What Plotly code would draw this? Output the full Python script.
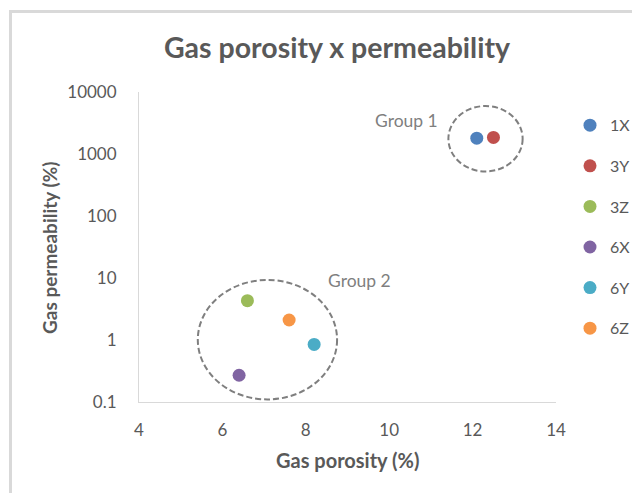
import plotly.graph_objects as go

# ---- data ----
samples = ["1X", "3Y", "3Z", "6X", "6Y", "6Z"]
porosity = [12.1, 12.5, 6.6, 6.4, 8.2, 7.6]
permeability = [1800, 1850, 4.3, 0.27, 0.85, 2.1]
colors = ["#4F81BD", "#C0504D", "#9BBB59", "#8064A2", "#4BACC6", "#F79646"]

x_ticks = [4, 6, 8, 10, 12, 14]
y_tickvals = [0.1, 1, 10, 100, 1000, 10000]
y_ticktext = ["0.1", "1", "10", "100", "1000", "10000"]

# group ellipses (data-space bounding boxes)
group_names = ["Group 1", "Group 2"]
group_x0 = [11.42, 5.41]
group_x1 = [13.20, 8.75]
group_y0 = [523, 0.11]
group_y1 = [5940, 9.3]

FONT = "Lato"
GREY = "#595959"

fig = go.Figure()
for i, s in enumerate(samples):
    fig.add_trace(go.Scatter(
        x=[porosity[i]], y=[permeability[i]], mode="markers", name=s,
        legendgroup=s,
        marker=dict(color=colors[i], size=13, line=dict(width=0)),
    ))

W, H = 632, 493
PL, PR, PT, PB = 139, 556, 92, 402   # plot area in screen pixels
L, R, T, B = PL, W - PR, PT, H - PB
pw, ph = PR - PL, PB - PT

def px(xs):
    return (xs - PL) / pw

def py(ys):
    return (PB - ys) / ph

shapes = []
for i in range(len(group_names)):
    shapes.append(dict(type="circle", xref="x", yref="y",
                       x0=group_x0[i], x1=group_x1[i], y0=group_y0[i], y1=group_y1[i],
                       line=dict(color="#7F7F7F", width=2, dash="6px,3px")))
# outer frame
shapes.append(dict(type="line", xref="paper", yref="paper",
                   x0=px(10.5), x1=px(10.5), y0=py(10), y1=py(520),
                   line=dict(color="#D9D9D9", width=3)))
shapes.append(dict(type="line", xref="paper", yref="paper",
                   x0=px(9), x1=px(640), y0=py(11.5), y1=py(11.5),
                   line=dict(color="#D9D9D9", width=3)))

annotations = [
    dict(text="Gas porosity (%)", xref="paper", yref="paper", x=px(347), y=py(460),
         xanchor="center", yanchor="middle", showarrow=False,
         font=dict(family=FONT, size=20, color=GREY, weight="bold")),
    dict(text="Gas permeability (%)", xref="paper", yref="paper", x=px(50), y=py(248),
         xanchor="center", yanchor="middle", showarrow=False, textangle=-90,
         font=dict(family=FONT, size=19, color=GREY, weight="bold")),
    dict(text=group_names[0], xref="paper", yref="paper", x=px(406), y=py(120),
         xanchor="center", yanchor="middle", showarrow=False,
         font=dict(family=FONT, size=17.5, color="#7F7F7F")),
    dict(text=group_names[1], xref="paper", yref="paper", x=px(359.5), y=py(280),
         xanchor="center", yanchor="middle", showarrow=False,
         font=dict(family=FONT, size=17.5, color="#7F7F7F")),
]

fig.update_layout(
    width=W, height=H,
    margin=dict(l=L, r=R, t=T, b=B, autoexpand=False),
    paper_bgcolor="white", plot_bgcolor="white",
    title=dict(text="Gas porosity x permeability", xref="container", yref="container",
               x=337 / W, y=1 - 48 / H, xanchor="center", yanchor="middle",
               font=dict(family=FONT, size=28.5, color=GREY, weight="bold")),
    xaxis=dict(range=[4, 14], tickvals=x_ticks, showgrid=False, zeroline=False,
               showline=True, linecolor="#D9D9D9", linewidth=1, ticks="",
               ticklabelstandoff=13,
               tickfont=dict(family=FONT, size=17, color=GREY)),
    yaxis=dict(type="log", range=[-1, 4], tickvals=y_tickvals, ticktext=y_ticktext,
               showgrid=False, zeroline=False, showline=True, linecolor="#D9D9D9",
               linewidth=1, ticks="", ticklabelstandoff=18,
               tickfont=dict(family=FONT, size=17, color=GREY)),
    legend=dict(x=px(570), y=py(108.3), xanchor="left", yanchor="top",
                font=dict(family=FONT, size=16, color=GREY),
                tracegroupgap=16.8, itemwidth=30, bgcolor="rgba(0,0,0,0)"),
    shapes=shapes,
    annotations=annotations,
    showlegend=True,
)

fig.write_html(
    "out.html",
    config={"displayModeBar": False},
    post_script="document.body.style.margin='0';document.body.style.overflow='hidden';",
)
